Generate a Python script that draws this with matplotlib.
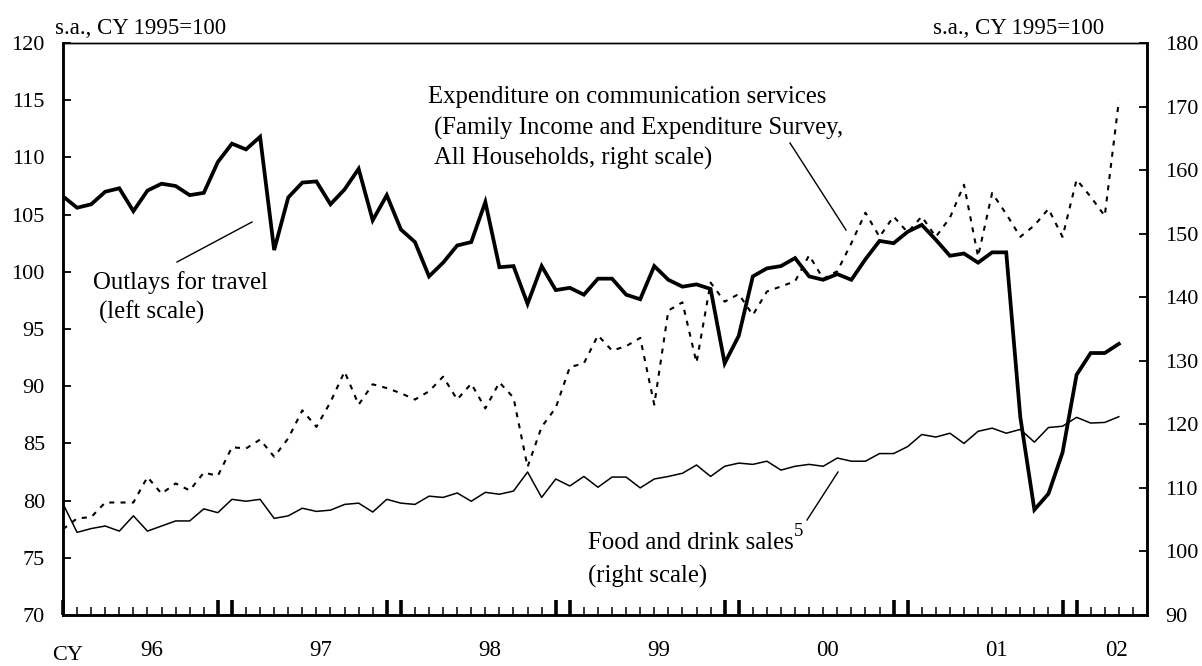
import numpy as np
import matplotlib
matplotlib.use("Agg")
import matplotlib.pyplot as plt
from matplotlib import transforms

plt.rcParams['font.family'] = ['Liberation Serif', 'DejaVu Serif']

# monthly, Jan 1996 .. Apr 2002
travel = [106.6, 105.6, 105.9, 107.0, 107.3, 105.3, 107.1, 107.7, 107.5, 106.7, 106.9, 109.6,
          111.2, 110.7, 111.8, 101.9, 106.5, 107.8, 107.9, 105.9, 107.2, 109.0, 104.5, 106.7,
          103.7, 102.6, 99.6, 100.8, 102.3, 102.6, 106.1, 100.4, 100.5, 97.2, 100.5, 98.4,
          98.6, 98.0, 99.4, 99.4, 98.0, 97.6, 100.5, 99.3, 98.7, 98.9, 98.5, 92.0,
          94.4, 99.6, 100.3, 100.5, 101.2, 99.6, 99.3, 99.8, 99.3, 101.1, 102.7, 102.5,
          103.5, 104.1, 102.8, 101.4, 101.6, 100.8, 101.7, 101.7, 87.3, 79.2, 80.6, 84.2,
          91.0, 92.9, 92.9, 93.7]

comm = [103.5, 105.2, 105.4, 107.7, 107.7, 107.7, 111.7, 109.1, 110.7, 109.6, 112.4, 111.9,
        116.4, 116.2, 117.6, 114.9, 117.8, 122.2, 119.6, 123.5, 128.3, 123.1, 126.3, 125.7,
        124.9, 123.9, 125.2, 127.5, 123.9, 126.4, 122.5, 126.6, 124.2, 113.3, 119.6, 122.6,
        129.0, 129.6, 134.0, 131.6, 132.3, 133.6, 123.1, 137.9, 139.2, 129.7, 142.3, 139.3,
        140.5, 137.2, 140.9, 141.7, 142.5, 146.6, 142.9, 144.1, 148.5, 153.3, 149.5, 152.7,
        150.2, 152.7, 149.5, 152.5, 157.7, 146.4, 156.4, 153.1, 149.5, 151.3, 153.9, 149.5,
        158.5, 155.8, 152.8, 170.9]

food = [107.5, 103.0, 103.6, 104.0, 103.2, 105.6, 103.2, 104.0, 104.8, 104.8, 106.7, 106.1,
        108.2, 107.9, 108.2, 105.2, 105.6, 106.8, 106.3, 106.5, 107.4, 107.6, 106.2, 108.2,
        107.6, 107.4, 108.7, 108.5, 109.2, 107.9, 109.3, 109.0, 109.5, 112.5, 108.5, 111.4,
        110.3, 111.8, 110.1, 111.7, 111.7, 110.0, 111.4, 111.8, 112.3, 113.6, 111.8, 113.4,
        113.9, 113.7, 114.2, 112.8, 113.4, 113.7, 113.4, 114.7, 114.2, 114.2, 115.4, 115.4,
        116.5, 118.4, 118.0, 118.6, 117.0, 118.9, 119.4, 118.6, 119.2, 117.2, 119.5, 119.7,
        121.1, 120.2, 120.3, 121.2]

year_labels = ['96', '97', '98', '99', '00', '01', '02']
n_months_axis = 77

W, H = 1202, 666
fig = plt.figure(figsize=(W / 100, H / 100), dpi=100)


def px(x, y):
    return x / W, 1 - y / H


ax = fig.add_axes([63 / W, 1 - 615 / H, (1147 - 63) / W, (615 - 43) / H])
ax2 = ax.twinx()
x = np.arange(len(travel))

# right scale on primary axes, left scale on twin so travel draws on top
ax.plot(x, comm, color='black', lw=1.5, linestyle=(0, (2.4, 3.0)))
ax.plot(x, food, color='black', lw=1.1)
ax2.plot(x, travel, color='black', lw=2.7, solid_joinstyle='miter')

ax.set_xlim(0, n_months_axis)
ax.set_ylim(90, 180)
ax2.set_ylim(70, 120)
ax.yaxis.tick_right()
ax2.yaxis.tick_left()
ax.set_yticks(np.arange(90, 181, 10))
ax2.set_yticks(np.arange(70, 121, 5))

for a in (ax, ax2):
    for s in a.spines.values():
        s.set_linewidth(1.8)
    a.spines['top'].set_linewidth(1.0)
    a.tick_params(axis='y', direction='in', length=6, width=1.3, labelsize=16, pad=13)

thick = [0] + [12 * k + d for k in range(1, 7) for d in (-1, 0)]
ax.set_xticks(thick)
ax.set_xticks(np.arange(0, n_months_axis + 1), minor=True)
ax.tick_params(axis='x', which='major', direction='in', length=11, width=2.6, labelbottom=False)
ax.tick_params(axis='x', which='minor', direction='in', length=6, width=1.1)
ax2.tick_params(axis='x', which='both', bottom=False, labelbottom=False)

tr = transforms.blended_transform_factory(ax.transData, fig.transFigure)
for k, lab in enumerate(year_labels):
    xs = 12 * k
    xe = min(xs + 12, n_months_axis)
    ax.text((xs + xe) / 2 + 0.3, 1 - 650 / H, lab, transform=tr, ha='center', va='center', fontsize=16.5)
fig.text(*px(68, 656), 'CY', ha='center', va='center', fontsize=16)

fig.text(*px(55, 29), 's.a., CY 1995=100', ha='left', va='center', fontsize=16.5)
fig.text(*px(1104, 29), 's.a., CY 1995=100', ha='right', va='center', fontsize=16.5)

fs = 17.8
fig.text(*px(93, 283), 'Outlays for travel', ha='left', va='center', fontsize=fs)
fig.text(*px(99, 312), '(left scale)', ha='left', va='center', fontsize=fs)

fig.text(*px(428, 97), 'Expenditure on communication services', ha='left', va='center', fontsize=fs)
fig.text(*px(434, 128), '(Family Income and Expenditure Survey,', ha='left', va='center', fontsize=fs)
fig.text(*px(434, 158), 'All Households, right scale)', ha='left', va='center', fontsize=fs)

fig.text(*px(588, 543), 'Food and drink sales', ha='left', va='center', fontsize=fs)
fig.text(*px(794, 532), '5', ha='left', va='center', fontsize=13.5)
fig.text(*px(588, 576), '(right scale)', ha='left', va='center', fontsize=fs)

for (x0, y0), (x1, y1) in [((177, 262), (252, 222)),
                           ((790, 143), (846, 230)),
                           ((807, 520), (838, 472))]:
    fig.add_artist(plt.Line2D([x0 / W, x1 / W], [1 - y0 / H, 1 - y1 / H],
                              transform=fig.transFigure, color='black', lw=1.0))

fig.savefig('out.png', dpi=100)
